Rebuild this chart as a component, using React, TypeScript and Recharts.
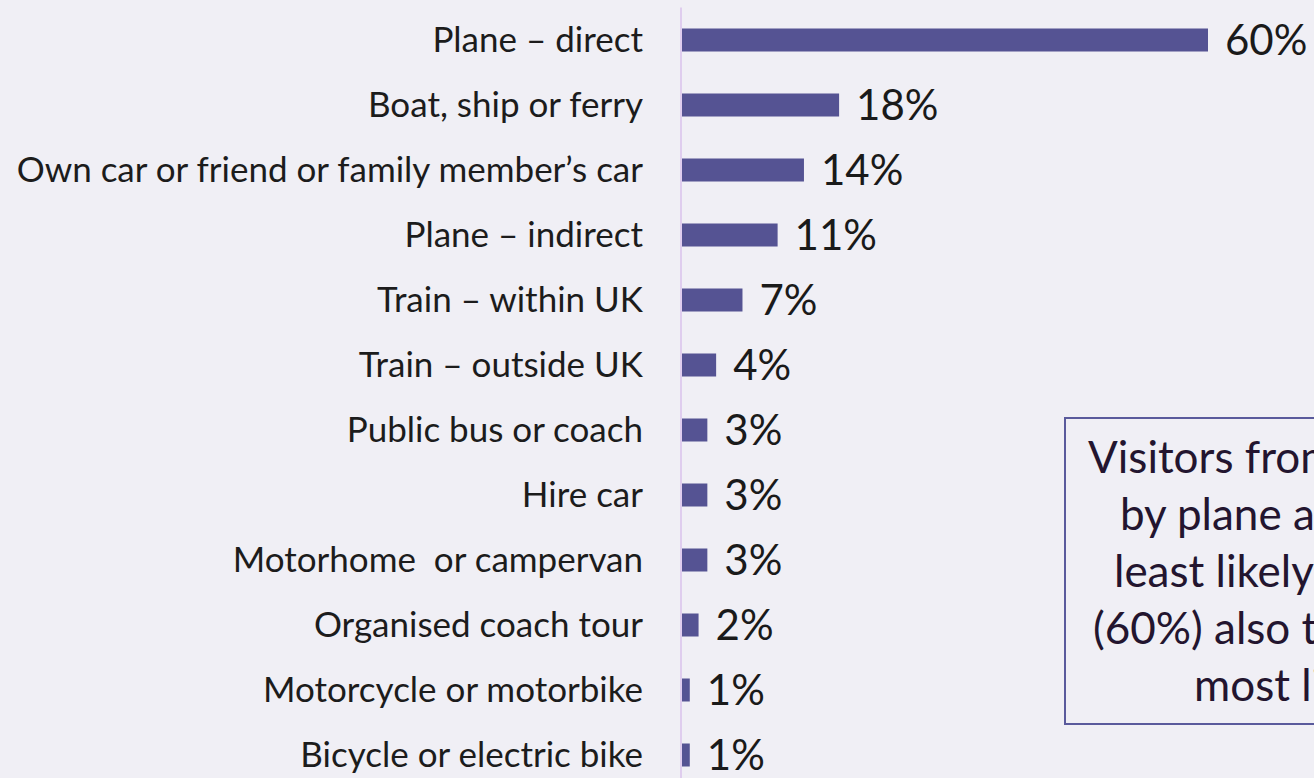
import { BarChart, Bar, XAxis, YAxis, LabelList } from "recharts";

const modes = [
  "Plane – direct",
  "Boat, ship or ferry",
  "Own car or friend or family member’s car",
  "Plane – indirect",
  "Train – within UK",
  "Train – outside UK",
  "Public bus or coach",
  "Hire car",
  "Motorhome  or campervan",
  "Organised coach tour",
  "Motorcycle or motorbike",
  "Bicycle or electric bike",
];
const shares = [60, 18, 14, 11, 7, 4, 3, 3, 3, 2, 1, 1];

const noteLines = [
  "Visitors from Europe travelling",
  "by plane are among the",
  "least likely to hire a car",
  "(60%) also travelled direct,",
  "most likely route",
];
const noteIndent = [22, 54, 48, 27, 128];

const data = modes.map((mode, i) => ({ mode, share: shares[i] }));

const font = "Lato, 'Noto Sans', sans-serif";

// custom tick so the double space in a label survives
const ModeTick = (props: any) => {
  const { x, y, payload } = props;
  return (
    <text
      x={x}
      y={y}
      dy="0.355em"
      textAnchor="end"
      fill="#1c1c1c"
      fontSize={35}
      fontFamily={font}
      style={{ whiteSpace: "pre" }}
    >
      {payload.value}
    </text>
  );
};

export default function App() {
  return (
    <div
      style={{
        position: "absolute",
        left: 0,
        top: 0,
        width: 1314,
        height: 778,
        overflow: "hidden",
        background: "#f0eff5",
        fontFamily: font,
      }}
    >
      <BarChart
        width={1314}
        height={795}
        data={data}
        layout="vertical"
        margin={{ top: 7.5, right: 106, bottom: 7.5, left: 0 }}
        barSize={23}
      >
        <XAxis type="number" domain={[0, 60]} hide />
        <YAxis
          type="category"
          dataKey="mode"
          width={681}
          interval={0}
          tickLine={false}
          tickSize={0}
          tickMargin={38}
          axisLine={{ stroke: "#dfcdee", strokeWidth: 2 }}
          tick={<ModeTick />}
        />
        <Bar dataKey="share" fill="#555393" isAnimationActive={false}>
          <LabelList
            dataKey="share"
            position="right"
            offset={17}
            formatter={(v: number) => `${v}%`}
            style={{ fill: "#1a1a1a", fontSize: 42, fontFamily: font }}
          />
        </Bar>
      </BarChart>
      <div
        style={{
          position: "absolute",
          left: 1064,
          top: 417,
          width: 500,
          height: 308,
          border: "2px solid #5a5a9c",
          color: "#23152f",
          fontSize: 44,
          lineHeight: "57px",
          paddingTop: 9,
          boxSizing: "border-box",
          whiteSpace: "nowrap",
        }}
      >
        {noteLines.map((line, i) => (
          <div key={i} style={{ paddingLeft: noteIndent[i] }}>
            {line}
          </div>
        ))}
      </div>
    </div>
  );
}
